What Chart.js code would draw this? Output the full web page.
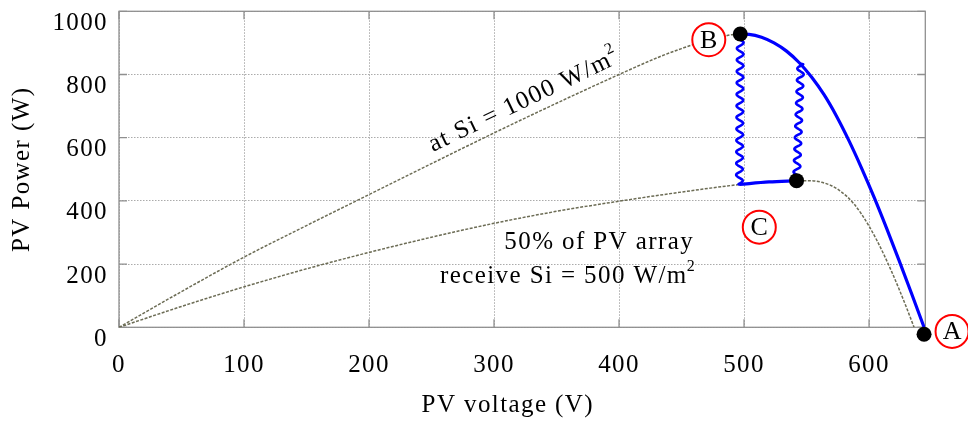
<!DOCTYPE html>
<html>
<head>
<meta charset="utf-8">
<script src="https://cdn.jsdelivr.net/npm/chart.js@4.4.1/dist/chart.umd.min.js"></script>
<style>
  html, body { margin: 0; padding: 0; background: #ffffff; }
  #wrap { width: 968px; height: 428px; }
</style>
</head>
<body>
<div id="wrap"><canvas id="pv"></canvas></div>
<script>
// ---- axis ticks ----
const voltageTicks = [0, 100, 200, 300, 400, 500, 600];
const powerTicks = [0, 200, 400, 600, 800, 1000];

// ---- P-V curve, whole array at 1000 W/m2 ----
const fullV = [0, 50, 100, 150, 200, 250, 300, 350, 400, 433, 450, 465, 480, 490, 497,
               504, 514, 524, 534, 544, 554, 564, 574, 584, 594, 604, 614, 624, 634, 644];
const fullP = [0, 113, 222, 322, 420, 518, 615, 709, 800, 857, 882, 902, 917, 926, 928,
               927, 918, 900, 874, 838, 792, 736, 668, 590, 504, 412, 314, 212, 107, 0];

// ---- P-V curve, half of the array at 500 W/m2 ----
const halfV = [0, 50, 100, 150, 200, 250, 300, 350, 400, 450, 497, 520, 542, 552, 562,
               570, 576, 582, 588, 594, 600, 606, 612, 618, 624, 630, 636];
const halfP = [0, 66, 128, 185, 237, 285, 329, 367, 399, 428, 452, 460, 464, 464, 459,
               448, 434, 415, 390, 358, 320, 277, 229, 177, 121, 62, 0];

// ---- tracker trajectory: A -> B on the full curve, drop to the shaded curve, slide to C, jump back up ----
const dropV = [497, 496.3];
const dropP = [928, 452];
const slideV = [496.3, 520, 542];
const slideP = [452, 460, 464];
const riseV = [542, 545.4];
const riseP = [464, 834];

// ---- operating points B, C, A ----
const markV = [497, 542, 644];
const markP = [928, 464, -22];

// ---- circled point names ----
const letterNames = ['B', 'C', 'A'];
const letterV = [471.8, 512.2, 666.4];
const letterP = [910, 317, -13];

const SERIF = '"Liberation Serif", "Times New Roman", Times, serif';
const FONT_SIZE = 25;
const SPACING = '1.4px';
const AXIS_GREY = '#8f8f8f';
const CURVE_GREY = '#6c6c55';
const BLUE = '#0000ff';
const X_TITLE = 'PV voltage (V)';

const pts = (xs, ys) => xs.map((v, i) => ({ x: v, y: ys[i] }));
const pathAB = pts(fullV, fullP).filter(p => p.x >= 497);

function wavyPath(ctx, x0, y0, x1, y1, amp, period) {
  const dx = x1 - x0, dy = y1 - y0, len = Math.hypot(dx, dy);
  const ux = dx / len, uy = dy / len, nx = -uy, ny = ux;
  ctx.moveTo(x0, y0);
  for (let s = 0.5; s < len; s += 0.5) {
    const o = amp * Math.sin(2 * Math.PI * s / period);
    ctx.lineTo(x0 + ux * s + nx * o, y0 + uy * s + ny * o);
  }
  ctx.lineTo(x1, y1);
}

// squiggly segments for the perturbation steps
const wavePlugin = {
  id: 'waves',
  afterDatasetDraw(chart, args) {
    const ds = chart.data.datasets[args.index];
    if (!ds.wavy) return;
    const p = args.meta.data;
    const ctx = chart.ctx;
    ctx.save();
    ctx.strokeStyle = ds.borderColor;
    ctx.lineWidth = ds.borderWidth;
    ctx.lineJoin = 'round';
    ctx.lineCap = 'round';
    ctx.beginPath();
    for (let i = 1; i < p.length; i++) wavyPath(ctx, p[i - 1].x, p[i - 1].y, p[i].x, p[i].y, 3.3, 11.5);
    ctx.stroke();
    ctx.restore();
  }
};

// box frame with inward tick marks
const framePlugin = {
  id: 'frame',
  beforeDraw(chart) { chart.ctx.letterSpacing = SPACING; },
  beforeDatasetsDraw(chart) {
    const { ctx, chartArea: a, scales: { x, y } } = chart;
    ctx.save();
    ctx.setLineDash([]);
    ctx.strokeStyle = AXIS_GREY;
    ctx.lineWidth = 1.3;
    ctx.strokeRect(a.left, a.top, a.right - a.left, a.bottom - a.top);
    ctx.beginPath();
    voltageTicks.forEach(v => {
      const px = x.getPixelForValue(v);
      ctx.moveTo(px, a.bottom); ctx.lineTo(px, a.bottom - 8);
      ctx.moveTo(px, a.top); ctx.lineTo(px, a.top + 8);
    });
    powerTicks.forEach(v => {
      const py = y.getPixelForValue(v);
      ctx.moveTo(a.left, py); ctx.lineTo(a.left + 8, py);
      ctx.moveTo(a.right, py); ctx.lineTo(a.right - 8, py);
    });
    ctx.stroke();
    ctx.restore();
  }
};

// curve captions, x-axis title and circled point names
const labelPlugin = {
  id: 'labels',
  afterDatasetsDraw(chart) {
    const { ctx, scales: { x, y } } = chart;
    const big = FONT_SIZE + 'px ' + SERIF;
    const small = '16px ' + SERIF;
    ctx.save();
    ctx.fillStyle = '#000';
    ctx.letterSpacing = SPACING;

    // caption along the full-irradiance curve
    const ang = Math.atan2(y.getPixelForValue(800) - y.getPixelForValue(420),
                           x.getPixelForValue(400) - x.getPixelForValue(200));
    ctx.save();
    ctx.translate(x.getPixelForValue(251.2), y.getPixelForValue(555));
    ctx.rotate(ang);
    ctx.font = big;
    ctx.textAlign = 'left';
    ctx.textBaseline = 'alphabetic';
    const main1 = 'at Si = 1000 W/m';
    ctx.fillText(main1, 0, 0);
    const w1 = ctx.measureText(main1).width;
    ctx.font = small;
    ctx.fillText('2', w1 - 1, -12);
    ctx.restore();

    // caption for the partially shaded curve
    const xr = x.getPixelForValue(460);
    const yb = y.getPixelForValue(247);
    ctx.font = big;
    ctx.textAlign = 'right';
    ctx.textBaseline = 'alphabetic';
    ctx.fillText('50% of PV array', xr, yb);
    const main2 = 'receive Si = 500 W/m';
    const w2 = ctx.measureText(main2).width;
    ctx.font = small;
    const ws = ctx.measureText('2').width;
    ctx.textAlign = 'left';
    const start = xr + 3 - (w2 + ws);
    ctx.font = big;
    ctx.fillText(main2, start, yb + 34);
    ctx.font = small;
    ctx.fillText('2', start + w2 - 1, yb + 34 - 12);

    // x-axis title, set slightly left of the plot centre
    ctx.font = big;
    ctx.textAlign = 'center';
    ctx.textBaseline = 'middle';
    ctx.fillText(X_TITLE, x.getPixelForValue(311), chart.height - 22.5);

    // circled letters
    ctx.letterSpacing = '0px';
    letterNames.forEach((name, i) => {
      const px = x.getPixelForValue(letterV[i]);
      const py = y.getPixelForValue(letterP[i]);
      ctx.beginPath();
      ctx.arc(px, py, 16.5, 0, Math.PI * 2);
      ctx.fillStyle = '#fff';
      ctx.fill();
      ctx.lineWidth = 2;
      ctx.strokeStyle = '#ff0000';
      ctx.stroke();
      ctx.fillStyle = '#000';
      ctx.font = '26px ' + SERIF;
      ctx.textAlign = 'center';
      ctx.textBaseline = 'middle';
      ctx.fillText(name, px, py + 1);
    });
    ctx.restore();
  }
};

Chart.defaults.font.family = SERIF;
Chart.defaults.font.size = FONT_SIZE;
Chart.defaults.color = '#000';

const curveStyle = { pointRadius: 0, showLine: true, cubicInterpolationMode: 'monotone' };

new Chart(document.getElementById('pv'), {
  type: 'scatter',
  data: {
    datasets: [
      { label: 'operating points', data: pts(markV, markP), order: 0, pointRadius: 7.5,
        pointBackgroundColor: '#000', pointBorderWidth: 0, showLine: false, clip: false },
      { label: 'step down', data: pts(dropV, dropP), order: 1, wavy: true, borderColor: BLUE,
        borderWidth: 2.6, pointRadius: 0, showLine: false },
      { label: 'step up', data: pts(riseV, riseP), order: 1, wavy: true, borderColor: BLUE,
        borderWidth: 2.6, pointRadius: 0, showLine: false },
      { label: 'slide', data: pts(slideV, slideP), order: 2, borderColor: BLUE, borderWidth: 3.2,
        ...curveStyle },
      { label: 'A to B', data: pathAB, order: 2, borderColor: BLUE, borderWidth: 3.2, ...curveStyle },
      { label: '1000 W/m2', data: pts(fullV, fullP), order: 3, borderColor: CURVE_GREY,
        borderWidth: 1.5, borderDash: [3, 1.5], ...curveStyle },
      { label: '500 W/m2', data: pts(halfV, halfP), order: 3, borderColor: CURVE_GREY,
        borderWidth: 1.5, borderDash: [3, 1.5], ...curveStyle }
    ]
  },
  options: {
    responsive: true,
    maintainAspectRatio: false,
    animation: false,
    events: [],
    layout: { padding: { left: 0, top: 11.3, right: 42.7, bottom: 0 } },
    plugins: { legend: { display: false }, tooltip: { enabled: false } },
    scales: {
      x: {
        type: 'linear', min: 0, max: 645,
        afterBuildTicks: s => { s.ticks = voltageTicks.map(v => ({ value: v })); },
        afterFit: s => { s.height = 428 - 327.3; s.paddingLeft = 0; s.paddingRight = 0; },
        ticks: { autoSkip: false, maxRotation: 0, padding: 23, color: '#000',
                 callback: v => String(v) },
        grid: { color: '#ababab', lineWidth: 1, drawTicks: false },
        border: { display: false, dash: [1.5, 1.5] },
        title: { display: false }
      },
      y: {
        type: 'linear', min: 0, max: 1000,
        afterBuildTicks: s => { s.ticks = powerTicks.map(v => ({ value: v })); },
        afterFit: s => { s.width = 119; s.paddingTop = 0; s.paddingBottom = 0; },
        ticks: { autoSkip: false, padding: 11, labelOffset: 12, color: '#000',
                 callback: v => String(v) },
        grid: { color: '#ababab', lineWidth: 1, drawTicks: false },
        border: { display: false, dash: [1.5, 1.5] },
        title: { display: true, text: 'PV Power (W)', color: '#000',
                 padding: { top: 7, bottom: 0 } }
      }
    }
  },
  plugins: [framePlugin, wavePlugin, labelPlugin]
});
</script>
</body>
</html>
